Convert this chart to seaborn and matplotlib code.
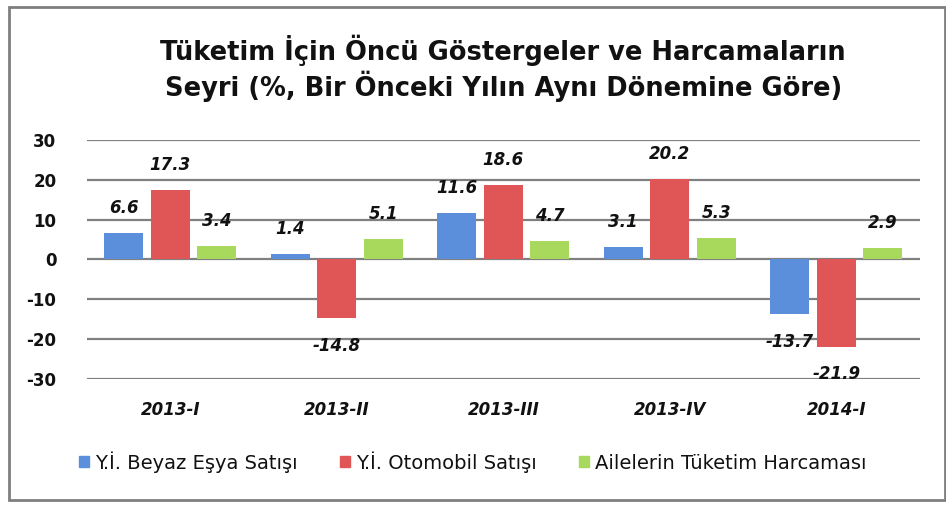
import matplotlib
matplotlib.use("Agg")
import matplotlib.pyplot as plt
import matplotlib.patches as patches
import seaborn as sns
import pandas as pd

periods = ["2013-I", "2013-II", "2013-III", "2013-IV", "2014-I"]
series_names = ["Y.İ. Beyaz Eşya Satışı", "Y.İ. Otomobil Satışı", "Ailelerin Tüketim Harcaması"]
beyaz_esya = [6.6, 1.4, 11.6, 3.1, -13.7]
otomobil = [17.3, -14.8, 18.6, 20.2, -21.9]
tuketim = [3.4, 5.1, 4.7, 5.3, 2.9]
colors = ["#5b8fdc", "#e05656", "#a8d85c"]

rows = []
for name, vals in zip(series_names, [beyaz_esya, otomobil, tuketim]):
    for p, v in zip(periods, vals):
        rows.append({"period": p, "series": name, "value": v})
df = pd.DataFrame(rows)

sns.set_style("white")
plt.rcParams["font.family"] = ["DejaVu Sans"]
plt.rcParams["axes.unicode_minus"] = False
plt.rcParams["text.color"] = "#111111"
plt.rcParams["xtick.color"] = "#111111"
plt.rcParams["ytick.color"] = "#111111"

fig = plt.figure(figsize=(9.46, 5.05), dpi=100)
ax = fig.add_axes([0.092, 0.25, 0.88, 0.473])

sns.barplot(data=df, x="period", y="value", hue="series", palette=colors,
            width=0.84, gap=0.16, saturation=1, ax=ax, legend=False,
            edgecolor="none")

ax.set_ylim(-30, 30)
ax.set_yticks(range(-30, 31, 10))
ax.yaxis.grid(True, color="#808080", linewidth=1.6)
ax.set_axisbelow(True)
for s in ax.spines.values():
    s.set_visible(False)
ax.set_xlabel("")
ax.set_ylabel("")
ax.tick_params(axis="y", labelsize=12, length=0, pad=22)
ax.tick_params(axis="x", length=0, pad=16)
for lbl in ax.get_yticklabels():
    lbl.set_fontweight("semibold")
for lbl in ax.get_xticklabels():
    lbl.set_fontweight("bold")
    lbl.set_fontstyle("italic")
    lbl.set_fontsize(12)

for cont in ax.containers:
    for bar in cont:
        h = bar.get_height()
        x = bar.get_x() + bar.get_width() / 2
        off = 18 if h >= 0 else -20
        ax.annotate(f"{h:.1f}", (x, h), xytext=(0, off), textcoords="offset points",
                    ha="center", va="center", fontsize=12, fontweight="bold",
                    fontstyle="italic")

fig.text(0.532, 0.865, "Tüketim İçin Öncü Göstergeler ve Harcamaların\nSeyri (%, Bir Önceki Yılın Aynı Dönemine Göre)",
         ha="center", va="center", fontsize=18.5, fontweight="bold", linespacing=1.2)

handles = [patches.Patch(color=c, label=n) for c, n in zip(colors, series_names)]
fig.legend(handles=handles, loc="center", bbox_to_anchor=(0.5, 0.085), ncol=3,
           frameon=False, fontsize=14, handlelength=0.5, handleheight=0.5,
           handletextpad=0.3, columnspacing=2.2)

fig.add_artist(patches.Rectangle((9 / 946, 5 / 505), 936 / 946, 493 / 505,
                                 transform=fig.transFigure, fill=False,
                                 edgecolor="#7f7f7f", linewidth=2))

fig.savefig("out.png", dpi=100)
